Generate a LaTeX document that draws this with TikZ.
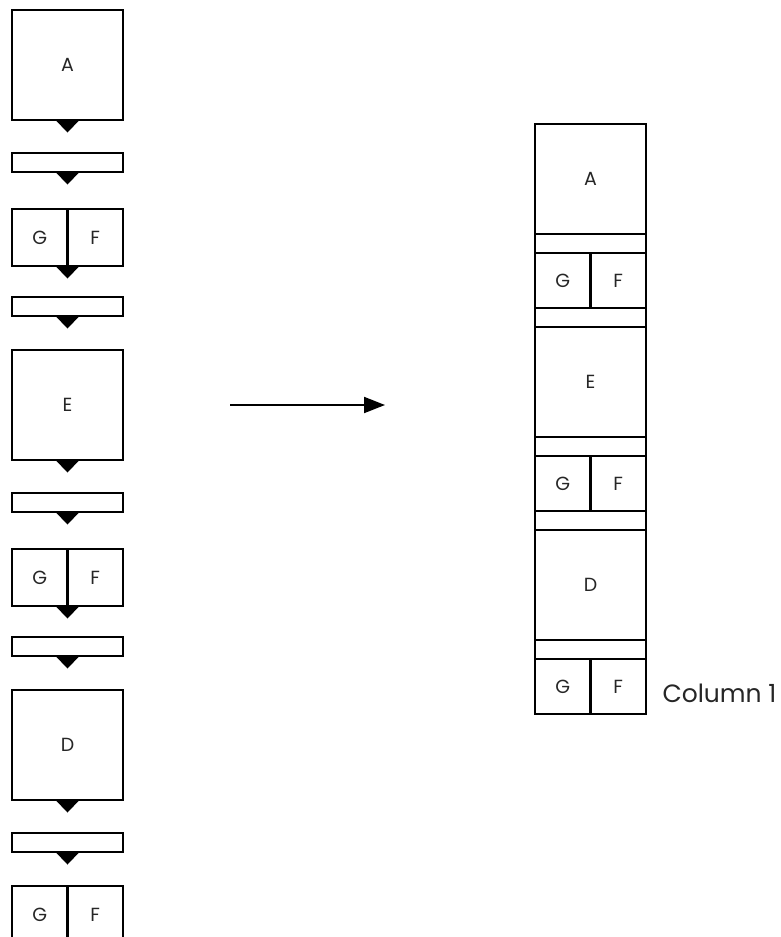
\documentclass[tikz,border=0pt]{standalone}
\usepackage{fontspec}
\setmainfont{Poppins}
\usetikzlibrary{arrows.meta}

\tikzset{
  blockbox/.style={draw, line width=2.7pt, inner sep=0pt, outer sep=0pt,
    anchor=north west, text=black!85, font=\fontsize{19}{19}\selectfont},
  bigbox/.style={blockbox, minimum width=111pt, minimum height=110pt},
  barbox/.style={blockbox, minimum width=111pt, minimum height=19pt},
  halfbox/.style={blockbox, minimum width=55.5pt, minimum height=57pt},
  pointer/.style={fill=black}
}

\begin{document}
\begin{tikzpicture}[x=1pt, y=-1pt]
    \useasboundingbox (0,0) rectangle (781,937);

    % Left column: the steps one under another
    \foreach \name/\top in {A/10, E/350, D/690}
        \node[bigbox] (left\name) at (12,\top) {\name};
    \foreach \idx/\top in {1/153, 2/297, 3/493, 4/637, 5/833}
        \node[barbox] (leftbar\idx) at (12,\top) {};
    \foreach \idx/\top in {1/209, 2/549, 3/886} {
        \node[halfbox] (leftg\idx) at (12,\top) {G};
        \node[halfbox] (leftf\idx) at (leftg\idx.north east) {F};
    }

    % Pointers between the steps
    \foreach \spot in {leftA.south, leftbar1.south, leftg1.south east, leftbar2.south,
                       leftE.south, leftbar3.south, leftg2.south east, leftbar4.south,
                       leftD.south, leftbar5.south}
        \fill[pointer] (\spot) ++(-12,0) -- ++(24,0) -- ++(-12,12.5) -- cycle;

    % Arrow
    \coordinate (arrowtail) at (230,405);
    \coordinate (arrowtip) at (385,405);
    \draw[line width=2pt, -{Triangle[length=21pt,width=16pt]}] (arrowtail) -- (arrowtip);

    % Right column: the same steps stacked
    \node[bigbox] (rightA) at (535,124) {A};
    \node[barbox] (rightbar1) at (rightA.south west) {};
    \node[halfbox, minimum height=55pt] (rightg1) at (rightbar1.south west) {G};
    \node[halfbox, minimum height=55pt] (rightf1) at (rightg1.north east) {F};
    \node[barbox] (rightbar2) at (rightg1.south west) {};
    \node[bigbox] (rightE) at (rightbar2.south west) {E};
    \node[barbox] (rightbar3) at (rightE.south west) {};
    \node[halfbox, minimum height=55pt] (rightg2) at (rightbar3.south west) {G};
    \node[halfbox, minimum height=55pt] (rightf2) at (rightg2.north east) {F};
    \node[barbox] (rightbar4) at (rightg2.south west) {};
    \node[bigbox] (rightD) at (rightbar4.south west) {D};
    \node[barbox] (rightbar5) at (rightD.south west) {};
    \node[halfbox, minimum height=55pt] (rightg3) at (rightbar5.south west) {G};
    \node[halfbox, minimum height=55pt] (rightf3) at (rightg3.north east) {F};

    \node[anchor=base west, text=black!85, font=\fontsize{25}{25}\selectfont]
        (collabel) at ([xshift=13pt, yshift=12pt]rightf3.south east) {Column 1};
\end{tikzpicture}
\end{document}
